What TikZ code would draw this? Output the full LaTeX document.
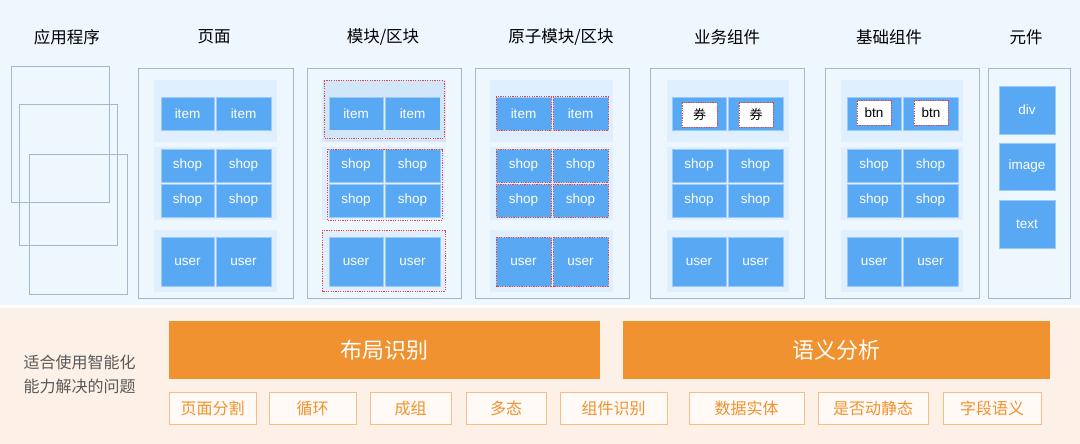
\documentclass[tikz,border=0pt]{standalone}
\usepackage{fontspec}
\setmainfont{Liberation Sans}
\newfontfamily\cjk{Noto Sans CJK SC}
\begin{document}
\begin{tikzpicture}[x=1pt,y=-1pt,
  cell/.style={fill=cellblue,draw=cellblue!60!white,line width=0.6pt},
  celltxt/.style={text=white,font=\fontsize{13.5}{13.5}\selectfont},
  red/.style={draw=redd,dash pattern=on 1.2pt off 1.2pt,line width=1pt},
  title/.style={font=\cjk\fontsize{16.5}{16.5}\selectfont,text=black},
  bar/.style={fill=barorange},
  tag/.style={draw=barorange!60,line width=0.8pt,fill=orange!4},
  tagtxt/.style={font=\cjk\fontsize{16}{16}\selectfont,text=barorange}]
\definecolor{cellblue}{HTML}{58A8F4}
\definecolor{barorange}{HTML}{F0922F}
\definecolor{framec}{HTML}{A3B8CC}
\definecolor{topbg}{HTML}{EEF6FE}
\definecolor{botbg}{HTML}{FDF0E6}
\definecolor{grpc}{HTML}{E0EFFD}
\definecolor{grpd}{HTML}{D2E6FA}
\definecolor{redd}{HTML}{E8453C}
\useasboundingbox (0,0) rectangle (1080,444);
\fill[topbg] (0,0) rectangle (1080,305);
\fill[white] (0,305) rectangle (1080,308);
\fill[botbg] (0,308) rectangle (1080,444);
% titles
\foreach \t/\x in {应用程序/67,页面/214,{模块/区块}/383,{原子模块/区块}/561,业务组件/727,基础组件/889,元件/1026}
  \node[title] at (\x,37) {\t};
% app rects
\draw[framec,line width=0.8pt] (11,66) rectangle (109,202);
\draw[framec,line width=0.8pt] (19,104) rectangle (117,245);
\draw[framec,line width=0.8pt] (29,154) rectangle (127,294);
\newcommand\colgrid[9]{%
  \draw[framec,line width=0.8pt] (#1,68) rectangle (#2,298);
  \fill[grpc] (#3,80) rectangle (#4,142);
  \fill[grpc] (#3,147) rectangle (#4,220);
  \fill[grpc] (#3,230) rectangle (#4,292);
  \foreach \ya/\yb/\lab in {97/130/#9,149/182/shop,184/217/shop,237/286/user}{
    \draw[cell] (#5,\ya) rectangle (#6,\yb);
    \draw[cell] (#7,\ya) rectangle (#8,\yb);
    \node[celltxt] at ({(#5+#6)/2},{(\ya+\yb)/2}) {\lab};
    \node[celltxt] at ({(#7+#8)/2},{(\ya+\yb)/2}) {\lab};
  }}
% 页面
\colgrid{138}{293}{154}{277}{161}{214}{216}{271}{item}
% 模块
\colgrid{307}{461}{322}{445}{329}{383}{385}{440}{item}
\fill[grpd] (323,80) rectangle (446,97);
\fill[grpd] (323,130) rectangle (446,142);
\fill[grpd] (323,97) rectangle (329,130);
\fill[grpd] (440,97) rectangle (446,130);
\draw[red] (324,81) rectangle (444,138);
\draw[red] (327,149) rectangle (442,220);
\draw[red] (322,230) rectangle (445,291);
% 原子
\colgrid{475}{629}{490}{613}{496}{551}{553}{608}{item}
\foreach \ya/\yb in {97/130,149/182,184/217,237/286}{
  \draw[red] (496,\ya) rectangle (551,\yb);
  \draw[red] (553,\ya) rectangle (608,\yb);}
% 业务
\colgrid{650}{804}{667}{789}{672}{726}{728}{783}{}
\foreach \a/\b in {682/717,739/773}{
  \draw[red,fill=white] (\a,103) rectangle (\b,127);
  \node[font=\cjk\fontsize{13}{13}\selectfont] at ({(\a+\b)/2},115) {券};}
% 基础
\colgrid{825}{979}{841}{963}{847}{901}{903}{958}{}
\foreach \a/\b in {857/891,914/948}{
  \draw[red,fill=white] (\a,101) rectangle (\b,125);
  \node[font=\fontsize{13.5}{13.5}\selectfont] at ({(\a+\b)/2},113) {btn};}
% 元件
\draw[framec,line width=0.8pt] (988,68) rectangle (1070,298);
\foreach \ya/\yb/\lab in {86/134/div,143/190/image,200/248/text}{
  \draw[cell] (999,\ya) rectangle (1055,\yb);
  \node[celltxt] at (1027,{(\ya+\yb)/2}) {\lab};}
% bottom
\node[font=\cjk\fontsize{16}{24}\selectfont,text=black!65,align=left,anchor=west] (q) at (20,374) {适合使用智能化\\能力解决的问题};
\fill[bar] (169,321) rectangle (600,379);
\node[font=\cjk\fontsize{22}{22}\selectfont,text=white] (b1) at (384,350) {布局识别};
\fill[bar] (623,321) rectangle (1050,379);
\node[font=\cjk\fontsize{22}{22}\selectfont,text=white] (b2) at (836,350) {语义分析};
\foreach \a/\b/\t in {169/256/页面分割,269/356/循环,370/451/成组,466/546/多态,560/667/组件识别,689/804/数据实体,818/928/是否动静态,943/1041/字段语义}{
  \draw[tag] (\a,392) rectangle (\b,424);
  \node[tagtxt] at ({(\a+\b)/2},408) {\t};}
\end{tikzpicture}
\end{document}
